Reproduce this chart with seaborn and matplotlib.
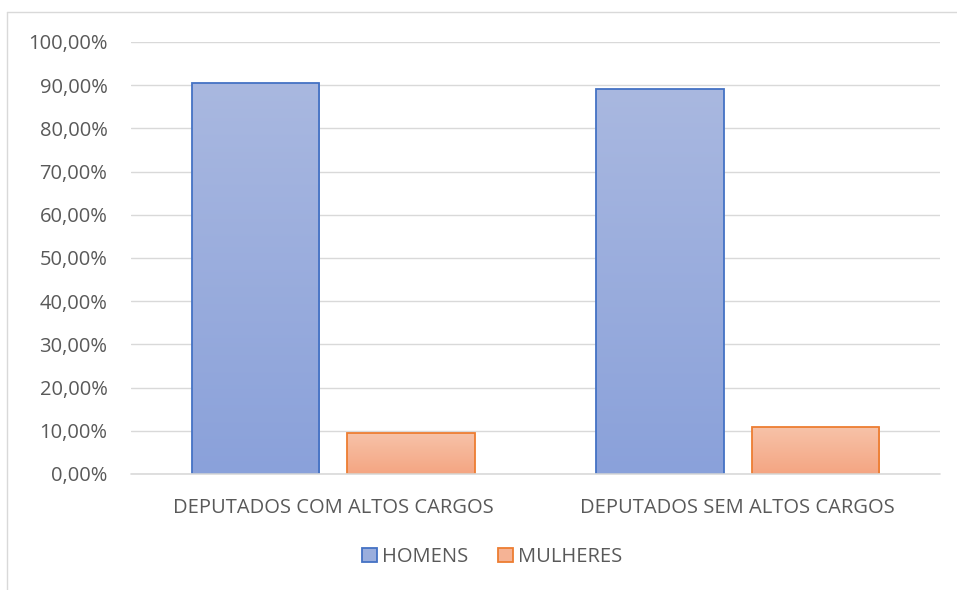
import numpy as np
import pandas as pd
import matplotlib
matplotlib.use("Agg")
import matplotlib.pyplot as plt
import seaborn as sns
from matplotlib.patches import Patch
from matplotlib.lines import Line2D
from matplotlib.colors import LinearSegmentedColormap
from matplotlib.ticker import FuncFormatter, MultipleLocator

categories = ["DEPUTADOS COM ALTOS CARGOS", "DEPUTADOS SEM ALTOS CARGOS"]
series_names = ["HOMENS", "MULHERES"]
homens = [90.4, 89.1]
mulheres = [9.6, 10.9]

df = pd.DataFrame({
    "cat": categories * 2,
    "serie": [series_names[0]] * 2 + [series_names[1]] * 2,
    "val": homens + mulheres,
})

sns.set_theme(style="white")
plt.rcParams["font.family"] = ["Open Sans", "DejaVu Sans"]

edge = {"HOMENS": "#4472C4", "MULHERES": "#ED7D31"}
grad = {"HOMENS": ("#A9B8E0", "#8AA1DA"), "MULHERES": ("#F7C3A9", "#F4A582")}
mid = {"HOMENS": "#9AAEDD", "MULHERES": "#F5B395"}
fs = 14.5

fig = plt.figure(figsize=(9.57, 5.90), dpi=100)
ax = fig.add_axes([131/957, 1-474/590, (940-131)/957, (474-42)/590])

sns.barplot(data=df, x="cat", y="val", hue="serie", order=categories,
            hue_order=series_names, palette=mid, width=0.768, gap=0.18,
            ax=ax, legend=False, zorder=3)

ax.set_ylim(0, 100)
ax.set_xlim(-0.5, 1.5)
ax.yaxis.set_major_locator(MultipleLocator(10))
ax.yaxis.set_major_formatter(FuncFormatter(lambda v, p: f"{v:.2f}".replace(".", ",") + "%"))
ax.grid(axis="y", color="#D9D9D9", linewidth=1, zorder=0)
ax.set_axisbelow(True)
for s in ["top", "right", "left", "bottom"]:
    ax.spines[s].set_visible(False)
ax.axhline(0, color="#D9D9D9", linewidth=1.2, clip_on=False, zorder=5)
ax.set_xlabel("")
ax.set_ylabel("")
ax.tick_params(axis="both", length=0, labelsize=fs, colors="#595959")
ax.tick_params(axis="y", pad=17)
ax.tick_params(axis="x", pad=17)

# gradient fills
n = len(categories)
for i, patch in enumerate(ax.patches[:2 * n]):
    serie = series_names[i // n]
    x0, y0 = patch.get_x(), patch.get_y()
    w, h = patch.get_width(), patch.get_height()
    cmap = LinearSegmentedColormap.from_list("g", [grad[serie][1], grad[serie][0]])
    g = np.linspace(0, 1, 256).reshape(-1, 1)
    im = ax.imshow(g, cmap=cmap, aspect="auto", origin="lower",
                   extent=[x0, x0 + w, y0, y0 + h], zorder=3)
    im.set_clip_path(patch)
    patch.set_facecolor("none")
    patch.set_edgecolor(edge[serie])
    patch.set_linewidth(1.3)
    patch.set_zorder(4)
ax.set_xlim(-0.5, 1.5)
ax.set_ylim(0, 100)
ax.set_aspect("auto")

handles = [Patch(facecolor=mid[s], edgecolor=edge[s], linewidth=1.3, label=s) for s in series_names]
fig.legend(handles=handles, loc="center", bbox_to_anchor=(492/957, 1-557/590),
           ncol=2, frameon=False, fontsize=fs, labelcolor="#595959",
           handlelength=0.75, handleheight=0.75, handletextpad=0.25, columnspacing=1.5)

# chart outer border
fig.add_artist(Line2D([7/957, 7/957], [0, 1-12/590], transform=fig.transFigure, color="#D9D9D9", lw=1))
fig.add_artist(Line2D([7/957, 1], [1-12/590, 1-12/590], transform=fig.transFigure, color="#D9D9D9", lw=1))

fig.savefig("out.png", dpi=100, facecolor="white")
